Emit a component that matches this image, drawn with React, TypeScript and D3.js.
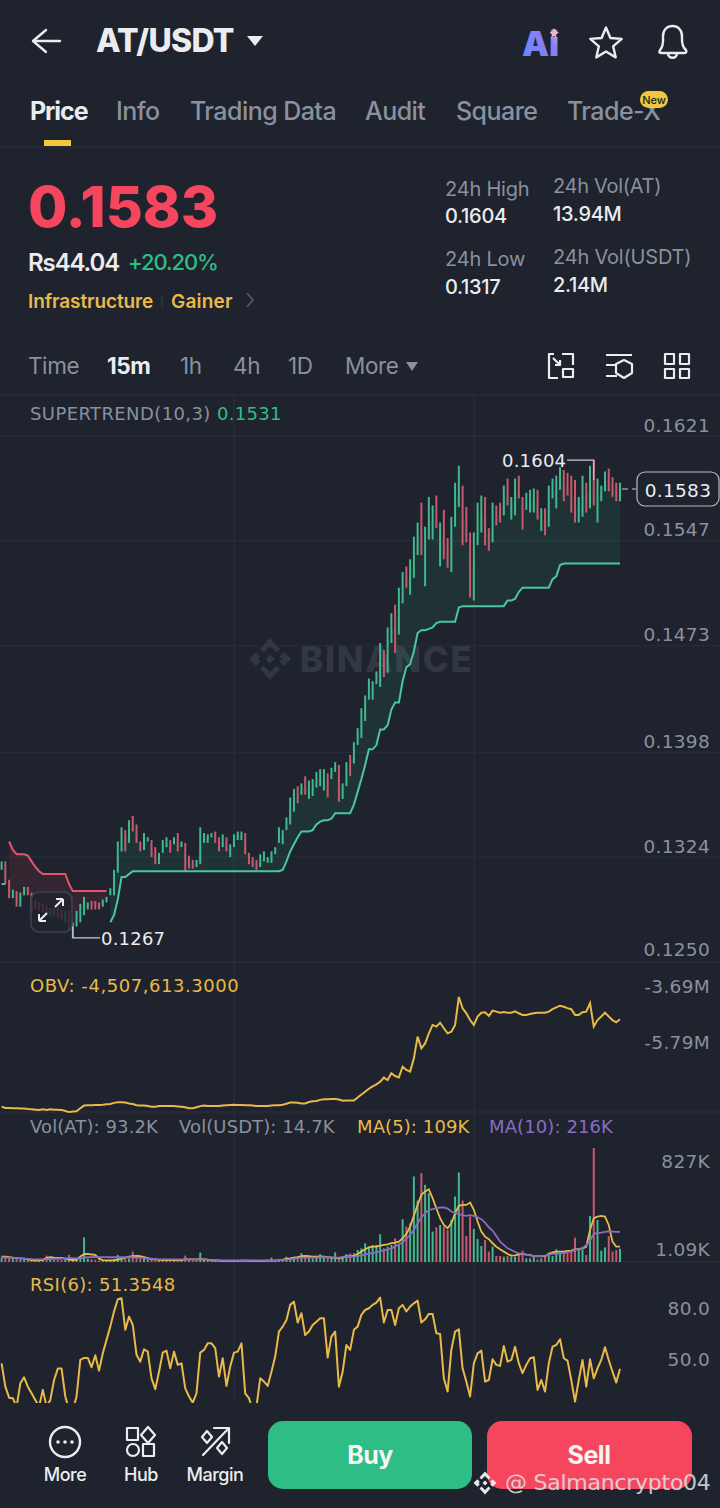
import * as d3 from 'd3'

// one letter per 15m candle, g = up, r = down
const candleDirs = (
  'grrgrggrrr' + 'rrrgrrrgrg' + 'ggggrrrggg' + 'gggrgrrrgg' + 'rrgggrgrgr' + 'rrgggggrrg' + 'rggggrrrrg' + 'gggggggggr' +
  'grgggggrgg' + 'rggrgggggg' + 'ggrggrggrg' + 'ggrgggrgrr' + 'gggrrrgggr' + 'rgrrgrggrr' + 'gggrgrgggg' + 'rrrrggrgrg' + 'ggrrrg'
).split('')

const candleHighs = [
  .1321, .1321, .1308, .1301, .1300, .1299, .1303, .1303, .1299, .1294,
  .1292, .1291, .1290, .1288, .1288, .1288, .1287, .1286, .1286, .1278,
  .1286, .1291, .1296, .1292, .1293, .1293, .1292, .1294, .1296, .1302,
  .1315, .1335, .1345, .1343, .1350, .1353, .1347, .1335, .1341, .1338,
  .1336, .1331, .1327, .1336, .1338, .1336, .1338, .1341, .1335, .1334,
  .1325, .1322, .1322, .1345, .1341, .1340, .1341, .1342, .1338, .1340,
  .1338, .1333, .1340, .1342, .1342, .1341, .1327, .1324, .1322, .1326,
  .1328, .1324, .1328, .1331, .1345, .1343, .1352, .1366, .1372, .1374,
  .1376, .1381, .1378, .1379, .1384, .1386, .1386, .1383, .1387, .1391,
  .1389, .1376, .1391, .1396, .1405, .1415, .1429, .1438, .1450, .1448,
  .1455, .1475, .1470, .1486, .1496, .1502, .1514, .1525, .1529, .1534,
  .1550, .1560, .1574, .1557, .1578, .1572, .1579, .1560, .1569, .1549,
  .1564, .1588, .1600, .1586, .1571, .1553, .1553, .1574, .1579, .1578,
  .1556, .1574, .1572, .1574, .1586, .1591, .1578, .1591, .1593, .1578,
  .1581, .1583, .1584, .1583, .1570, .1570, .1586, .1591, .1593, .1599,
  .1597, .1595, .1593, .1590, .1578, .1593, .1588, .1600, .1604, .1591,
  .1586, .1596, .1598, .1592, .1588, .1588,
]

const candleLows = [
  .1315, .1305, .1295, .1295, .1289, .1289, .1297, .1297, .1285, .1287,
  .1286, .1285, .1283, .1282, .1282, .1281, .1280, .1278, .1272, .1267,
  .1275, .1278, .1283, .1287, .1287, .1287, .1287, .1289, .1292, .1297,
  .1297, .1313, .1328, .1328, .1334, .1342, .1334, .1328, .1329, .1335,
  .1324, .1319, .1319, .1327, .1331, .1327, .1333, .1328, .1331, .1314,
  .1316, .1316, .1317, .1319, .1334, .1334, .1338, .1334, .1328, .1331,
  .1328, .1324, .1331, .1336, .1336, .1326, .1319, .1317, .1315, .1317,
  .1321, .1320, .1320, .1326, .1334, .1333, .1343, .1347, .1356, .1362,
  .1368, .1368, .1365, .1367, .1373, .1374, .1371, .1366, .1379, .1384,
  .1363, .1365, .1374, .1381, .1390, .1403, .1408, .1420, .1435, .1435,
  .1446, .1444, .1451, .1454, .1475, .1468, .1481, .1503, .1514, .1509,
  .1521, .1537, .1537, .1515, .1548, .1548, .1556, .1529, .1534, .1528,
  .1525, .1557, .1571, .1544, .1546, .1507, .1505, .1544, .1553, .1544,
  .1540, .1546, .1558, .1560, .1565, .1572, .1562, .1565, .1577, .1555,
  .1569, .1567, .1567, .1562, .1554, .1551, .1557, .1577, .1570, .1583,
  .1575, .1579, .1567, .1560, .1560, .1564, .1567, .1570, .1572, .1560,
  .1575, .1582, .1582, .1578, .1575, .1575,
]

const n = null
const superRed = [
  n, n, .1335, .1329, .1326, .1326, .1326, .1325, .1321, .1317,
  .1314, .1312, .1312, .1312, .1312, .1312, .1312, .1312, .1305, .1300,
  .1300, .1300, .1300, .1300, .1300, .1300, .1300, .1300, .1300,
]
const superGreen = [
  .1305, .1305, n, n, n, n, n, n, n, n, n, n, n, n, n, n, n, n, n, n, n, n, n, n, n, n, n, n, n,
  .1278, .1283, .1294, .1310, .1310, .1312, .1314, .1314, .1314, .1314, .1314,
  .1314, .1314, .1314, .1314, .1314, .1314, .1314, .1314, .1314, .1314,
  .1314, .1314, .1314, .1314, .1314, .1314, .1314, .1314, .1314, .1314,
  .1314, .1314, .1314, .1314, .1314, .1314, .1314, .1314, .1314, .1314,
  .1314, .1314, .1314, .1314, .1314, .1315, .1321, .1328, .1333, .1338,
  .1342, .1342, .1342, .1343, .1347, .1349, .1350, .1350, .1351, .1355,
  .1355, .1355, .1355, .1355, .1361, .1370, .1379, .1389, .1400, .1400,
  .1403, .1414, .1414, .1417, .1428, .1433, .1433, .1448, .1458, .1460,
  .1469, .1482, .1484, .1484, .1485, .1486, .1489, .1490, .1490, .1490,
  .1490, .1490, .1500, .1501, .1501, .1501, .1501, .1501, .1501, .1501,
  .1501, .1501, .1501, .1501, .1501, .1505, .1505, .1506, .1511, .1514,
  .1514, .1514, .1514, .1514, .1514, .1514, .1514, .1520, .1522, .1530,
  .1531, .1531, .1531, .1531, .1531, .1531, .1531, .1531, .1531, .1531,
  .1531, .1531, .1531, .1531, .1531, .1531,
]

// OBV in millions
const obvValues = [
  -7.73, -7.78, -7.78, -7.79, -7.79, -7.80, -7.80, -7.82, -7.83, -7.84,
  -7.85, -7.83, -7.85, -7.83, -7.84, -7.84, -7.85, -7.89, -7.93, -7.91,
  -7.90, -7.79, -7.69, -7.68, -7.68, -7.67, -7.67, -7.66, -7.64, -7.63,
  -7.59, -7.57, -7.57, -7.58, -7.61, -7.63, -7.68, -7.69, -7.69, -7.71,
  -7.73, -7.73, -7.71, -7.71, -7.71, -7.71, -7.71, -7.72, -7.73, -7.75,
  -7.79, -7.79, -7.75, -7.71, -7.69, -7.71, -7.71, -7.71, -7.71, -7.69,
  -7.68, -7.67, -7.66, -7.67, -7.67, -7.68, -7.68, -7.69, -7.71, -7.71,
  -7.71, -7.71, -7.69, -7.68, -7.68, -7.66, -7.62, -7.58, -7.58, -7.59,
  -7.61, -7.61, -7.56, -7.53, -7.52, -7.48, -7.46, -7.46, -7.45, -7.45,
  -7.47, -7.51, -7.50, -7.50, -7.50, -7.39, -7.28, -7.18, -7.07, -6.98,
  -6.91, -6.81, -6.66, -6.75, -6.50, -6.60, -6.65, -6.26, -6.38, -6.44,
  -5.95, -5.15, -5.58, -5.40, -5.03, -4.72, -4.78, -4.64, -4.84, -5.03,
  -4.97, -4.72, -3.69, -4.11, -4.29, -4.54, -4.72, -4.41, -4.27, -4.25,
  -4.39, -4.19, -4.23, -4.27, -4.24, -4.27, -4.27, -4.22, -4.29, -4.35,
  -4.35, -4.32, -4.29, -4.27, -4.27, -4.27, -4.23, -4.14, -4.07, -4.01,
  -4.05, -4.10, -4.14, -4.35, -4.35, -4.25, -4.23, -3.92, -4.78, -4.54,
  -4.41, -4.27, -4.41, -4.54, -4.62, -4.51,
]

// volume in thousands
const volumeValues = [
  30, 36, 34, 24, 22, 15, 14, 12, 10, 9,
  8, 20, 44, 22, 18, 14, 12, 14, 49, 14,
  18, 30, 177, 22, 18, 14, 9, 9, 10, 12,
  18, 49, 14, 20, 24, 73, 30, 26, 24, 18,
  12, 10, 14, 10, 10, 10, 8, 9, 12, 44,
  20, 10, 10, 66, 14, 8, 7, 6, 6, 7,
  8, 6, 5, 5, 5, 5, 6, 5, 5, 6,
  5, 6, 29, 8, 10, 12, 36, 20, 24, 30,
  61, 28, 26, 24, 30, 53, 28, 24, 26, 68,
  20, 30, 55, 60, 61, 85, 97, 134, 109, 122,
  122, 199, 97, 109, 122, 170, 122, 309, 255, 279,
  620, 445, 644, 559, 498, 219, 250, 267, 255, 231,
  304, 474, 649, 445, 187, 328, 238, 165, 114, 158,
  73, 109, 41, 41, 36, 41, 36, 36, 61, 80,
  24, 24, 41, 17, 24, 36, 66, 41, 90, 66,
  61, 61, 73, 175, 85, 85, 49, 333, 827, 304,
  80, 104, 187, 73, 85, 93,
]

const ma5Values = [
  37, 36, 33, 30, 25, 24, 22, 17, 11, 8,
  10, 12, 28, 32, 29, 28, 27, 22, 14, 12,
  13, 38, 54, 56, 52, 49, 22, 11, 10, 10,
  10, 14, 20, 29, 36, 40, 41, 40, 33, 25,
  17, 16, 13, 12, 12, 11, 11, 12, 11, 16,
  17, 16, 16, 19, 17, 14, 10, 8, 7, 6,
  6, 6, 6, 6, 7, 7, 6, 7, 6, 6,
  6, 7, 8, 8, 11, 14, 21, 24, 29, 33,
  40, 41, 40, 37, 37, 38, 37, 32, 30, 27,
  24, 29, 40, 38,
  41, 56, 73, 90, 104, 109, 109, 117, 122, 126,
  134, 139, 146, 170, 202, 255, 333, 413, 486, 510,
  527, 462, 389, 316, 267, 243, 279, 352, 406, 413,
  413, 430, 377, 292, 219, 182, 163, 134, 109, 90,
  73, 56, 44, 46, 53, 56, 51, 49, 41, 39,
  39, 41, 56, 68, 73, 73, 73, 78, 80, 90,
  92, 95, 109, 231, 316, 328, 333, 328, 267, 146, 109, 109,
]

const ma10Values = [
  32, 30, 29, 27, 25, 24, 22, 20, 18, 17,
  16, 16, 17, 19, 20, 21, 22, 24, 25, 25,
  24, 25, 30, 32, 33, 35, 33, 33, 33, 32,
  32, 32, 32, 32, 32, 32, 30, 29, 25, 22,
  21, 19, 17, 17, 16, 16, 16, 16, 16, 16,
  16, 16, 16, 16, 16, 14, 13, 12, 11, 10,
  10, 10, 10, 10, 10, 10, 10, 10, 10, 10,
  10, 10, 10, 10, 11, 13, 14, 17, 22, 25,
  29, 30, 30, 30, 30, 32, 32, 32, 32, 30,
  30, 35, 38, 36,
  36, 41, 46, 51, 58, 63, 68, 75, 83, 87,
  97, 109, 126, 139, 170, 194, 231, 279, 323, 352,
  377, 382, 389, 394, 394, 386, 365, 355, 345, 338,
  333, 338, 333, 323, 309, 284, 250, 226, 187, 146,
  122, 97, 85, 70, 61, 56, 51, 46, 41, 41,
  41, 44, 51, 56, 58, 61, 63, 70, 75, 85,
  92, 100, 119, 153, 202, 207, 211, 216, 221, 219, 216, 216,
]

const rsiValues = [
  54.5, 40.8, 34.3, 34.0, 29.0, 42.8, 46.3, 40.8, 36.9, 33.0,
  29.0, 38.9, 29.0, 33.0, 44.7, 51.4, 51.4, 35.0, 27.1, 27.1,
  35.0, 56.5, 57.7, 57.7, 52.2, 59.3, 50.2, 60.4, 68.3, 76.1,
  85.0, 92.2, 92.8, 74.2, 82.0, 77.1, 59.5, 55.5, 62.8, 61.4,
  45.7, 39.3, 49.6, 60.8, 62.0, 51.6, 61.4, 53.6, 54.5, 39.8,
  35.0, 31.4, 36.9, 60.8, 62.4, 66.3, 66.3, 63.4, 46.7, 57.5,
  41.2, 52.6, 60.8, 61.4, 66.3, 36.9, 34.0, 27.1, 29.0, 45.7,
  43.8, 41.2, 49.6, 58.5, 73.2, 76.1, 80.0, 88.9, 90.8, 78.5,
  84.0, 71.2, 73.2, 77.1, 79.0, 81.0, 81.0, 57.9, 70.2, 73.2,
  40.8, 49.6, 65.3, 62.4, 74.2, 76.1, 83.0, 85.9, 86.9, 88.9,
  90.2, 93.2, 78.5, 85.9, 85.9, 77.1, 86.9, 88.9, 85.0, 87.9,
  89.8, 91.4, 78.5, 80.4, 83.6, 83.6, 72.2, 71.8, 45.7, 37.9,
  62.4, 73.2, 74.5, 51.6, 43.8, 35.0, 54.5, 60.4, 62.0, 43.8,
  44.7, 56.9, 53.6, 53.0, 64.7, 55.5, 56.5, 64.3, 54.5, 48.7,
  53.6, 57.5, 58.1, 38.9, 44.7, 37.9, 54.5, 64.3, 65.3, 68.7,
  57.5, 56.1, 44.7, 32.0, 44.7, 56.5, 40.8, 56.9, 45.7, 51.6,
  56.5, 64.0, 56.5, 49.6, 43.2, 51.35,
]

const priceTicks = ['0.1621', '0.1547', '0.1473', '0.1398', '0.1324', '0.1250']
const tabs = [['Price', 30], ['Info', 116], ['Trading Data', 190], ['Audit', 365], ['Square', 456], ['Trade-X', 567]] as const
const intervals = [['Time', 28], ['15m', 107], ['1h', 180], ['4h', 233], ['1D', 288], ['More', 345]] as const

const bg = '#1e232d'
const green = '#2ebd85'
const red = '#f6465d'
const candleGreen = '#3fb98f'
const candleRed = '#c65a6c'
const yellow = '#e9b949'
const purple = '#8a6cc4'
const gray = '#8a919e'
const white = '#eaecef'
const grid = '#2a303a'
const font = 'Inter, Roboto, sans-serif'
const chartFont = '"DejaVu Sans", sans-serif'

const x = d3.scaleLinear([0, 165], [1.6, 620])
const yPrice = d3.scaleLinear([0.1250, 0.1621], [962, 436])
const yObv = d3.scaleLinear([-5.79, -3.69], [1054, 997])
const yVol = d3.scaleLinear([1.09, 827], [1261.5, 1148])
const yRsi = d3.scaleLinear([50, 80], [1371, 1320])

const lineFrom = (values: (number | null)[], y: d3.ScaleLinear<number, number>) =>
  d3.line<number | null>()
    .defined(d => d !== null)
    .x((_, i) => x(i))
    .y(d => y(d as number))(values) as string

const fillBetween = (line: (number | null)[]) =>
  d3.area<number | null>()
    .defined(d => d !== null)
    .x((_, i) => x(i))
    .y0(d => yPrice(d as number))
    .y1((_, i) => yPrice((candleHighs[i] + candleLows[i]) / 2))(line) as string

// the Binance mark, four chevrons round a small diamond
const BinanceMark = ({cx, cy, r, color}: { cx: number, cy: number, r: number, color: string }) => {
  const s = r / 22
  return (
    <g transform={`translate(${cx},${cy}) scale(${s})`} fill={color}>
      <path d="M0,-4.5 L4.5,0 L0,4.5 L-4.5,0Z"/>
      <path d="M-6.5,-6.5 L0,-13 L6.5,-6.5 L10,-10 L0,-21 L-10,-10Z"/>
      <path d="M-6.5,6.5 L0,13 L6.5,6.5 L10,10 L0,21 L-10,10Z"/>
      <path d="M-21,0 L-14,-7 L-9.5,-2.5 L-12,0 L-9.5,2.5 L-14,7Z"/>
      <path d="M21,0 L14,-7 L9.5,-2.5 L12,0 L9.5,2.5 L14,7Z"/>
    </g>
  )
}

const starPath = d3.lineRadial<number>()
  .angle((_, i) => i * Math.PI / 5)
  .radius(d => d)
  .curve(d3.curveLinearClosed)(d3.range(10).map(i => i % 2 === 0 ? 16.5 : 7.5)) as string

const AxisLabel = ({y, children}: { y: number, children: string }) => (
  <text x={710} y={y} fontSize={18.5} fill={gray} fontFamily={chartFont} textAnchor="end" letterSpacing={0.3}>{children}</text>
)

export default function App() {
  const stroke = {fill: 'none', stroke: white, strokeWidth: 2.4, strokeLinejoin: 'round' as const, strokeLinecap: 'round' as const}
  const superGreenTail = superGreen.map((v, i) => i < 29 ? null : v)

  return (
    <svg width={720} height={1508} style={{position: 'absolute', left: 0, top: 0, display: 'block'}} fontFamily={font}>
      <defs>
        <linearGradient id="aiGrad" x1="0" y1="1" x2="1" y2="0">
          <stop offset="0%" stopColor="#5f8cff"/>
          <stop offset="65%" stopColor="#8d7df2"/>
          <stop offset="100%" stopColor="#e8b7d8"/>
        </linearGradient>
        <clipPath id="rsiClip"><rect x={0} y={1270} width={720} height={133}/></clipPath>
      </defs>
      <rect width={720} height={1508} fill={bg}/>

      {/* header */}
      <path d="M60,41 H34 M46,30 L33,41 L46,52" {...stroke}/>
      <text x={96} y={52} fontSize={32} fontWeight={800} fill={white} letterSpacing={-0.7}>AT/USDT</text>
      <path d="M247,36 H263 L255,46Z" fill={white}/>
      <text x={522} y={56} fontSize={34} fontWeight={900} fill="url(#aiGrad)">Ai</text>
      <path d="M554,28 l1.5,3.5 l3.5,1 l-3,2 l0.5,3.5 l-2.5,-2 l-3,2 l1,-3.5 l-2.5,-2 l3.5,-1Z" fill="#e8b7d8"/>
      <path d={starPath} transform="translate(606,44)" {...stroke}/>
      <path d="M660,50 C664,46 663,40 663,36 C663,30 667,26 672.5,26 C678,26 682,30 682,36 C682,40 681,46 686,50 C687,52 686,53 684,53 H661 C659,53 659,52 660,50Z M668,54 C669,59 676,59 677,54" {...stroke}/>

      {tabs.map(([label, tx], i) => (
        <text key={label} x={tx} y={120} fontSize={25} fontWeight={i === 0 ? 700 : 500} fill={i === 0 ? white : gray} letterSpacing={i === 0 ? -1.1 : -0.55}>{label}</text>
      ))}
      <rect x={44} y={140} width={27} height={6} fill="#f0c93a"/>
      <rect x={640} y={91} width={28} height={17} rx={8.5} fill="#f0c93a"/>
      <text x={654} y={104} fontSize={11} fontWeight={500} fill="#1e232d" textAnchor="middle">New</text>
      <line x1={0} x2={720} y1={147} y2={147} stroke={grid}/>

      {/* price block */}
      <text x={28} y={227} fontSize={57} fontWeight={800} fill={red}>0.1583</text>
      <text x={28} y={271} fontSize={24} fontWeight={600} fill={white} letterSpacing={-1.1}>Rs44.04</text>
      <text x={128} y={270} fontSize={22} fontWeight={500} fill={green} letterSpacing={-1.1}>+20.20%</text>
      <text x={28} y={308} fontSize={19} fontWeight={600} fill={yellow} letterSpacing={-0.1}>Infrastructure</text>
      <line x1={162} x2={162} y1={296} y2={307} stroke="#3a404c"/>
      <text x={171} y={308} fontSize={19} fontWeight={600} fill={yellow} letterSpacing={0.2}>Gainer</text>
      <path d="M247,293 L253,300 L247,307" fill="none" stroke="#565c68" strokeWidth={1.6}/>

      <text x={445} y={196} fontSize={20} fill={gray} letterSpacing={-0.2}>24h High</text>
      <text x={445} y={223} fontSize={20} fontWeight={500} fill={white} letterSpacing={-0.3}>0.1604</text>
      <text x={553} y={193} fontSize={20} fill={gray} letterSpacing={-0.3}>24h Vol(AT)</text>
      <text x={553} y={221} fontSize={20} fontWeight={500} fill={white} letterSpacing={-0.3}>13.94M</text>
      <text x={445} y={266} fontSize={20} fill={gray} letterSpacing={-0.2}>24h Low</text>
      <text x={445} y={294} fontSize={20} fontWeight={500} fill={white} letterSpacing={-0.3}>0.1317</text>
      <text x={553} y={264} fontSize={20} fill={gray} letterSpacing={-0.2}>24h Vol(USDT)</text>
      <text x={553} y={292} fontSize={20} fontWeight={500} fill={white} letterSpacing={-0.3}>2.14M</text>

      {/* intervals */}
      {intervals.map(([label, tx]) => (
        <text key={label} x={tx} y={374} fontSize={22.5} fontWeight={label === '15m' ? 700 : 400} fill={label === '15m' ? white : gray} letterSpacing={-0.4}>{label}</text>
      ))}
      <path d="M406,362 H418 L412,371Z" fill={gray}/>
      <g {...stroke} strokeWidth={2.2} strokeLinecap="butt">
        <path d="M562,354 H573 V365 M549,365 V354 H554 M549,365 V378 H558"/>
        <rect x={563} y={369} width={10} height={8}/>
        <path d="M553,358 L560,365 M560,360 V365 H555"/>
        <path d="M606,355 H632 M606,365 H617 M606,376 H617"/>
        <path d="M624,360 L632,364 V373 L624,378 L616,373 V364Z"/>
        <rect x={665} y={354} width={9} height={10}/>
        <rect x={680} y={354} width={9} height={10}/>
        <rect x={665} y={369} width={9} height={9}/>
        <rect x={680} y={369} width={9} height={9}/>
      </g>
      <line x1={0} x2={720} y1={395} y2={395} stroke={grid}/>

      {/* grid */}
      {[234, 474].map(gx => <line key={gx} x1={gx} x2={gx} y1={396} y2={1403} stroke={grid}/>)}
      {priceTicks.map(label => (
        <line key={label} x1={0} x2={720} y1={yPrice(+label)} y2={yPrice(+label)} stroke={grid}/>
      ))}
      <line x1={0} x2={720} y1={1112} y2={1112} stroke={grid}/>
      <line x1={0} x2={720} y1={1262} y2={1262} stroke={grid}/>

      {/* watermark */}
      <BinanceMark cx={270} cy={659} r={22} color="#323843"/>
      <text x={300} y={672} fontSize={35} fontWeight={800} fill="#323843" letterSpacing={1.8}>BINANCE</text>

      <text x={30} y={420} fontSize={18} fill={gray} fontFamily={chartFont} letterSpacing={0.4}>SUPERTREND(10,3)</text>
      <text x={217} y={420} fontSize={18} fill={green} fontFamily={chartFont} letterSpacing={0.3}>0.1531</text>

      {/* supertrend fill, candles, supertrend lines */}
      <path d={fillBetween(superGreenTail)} fill={green} opacity={0.1}/>
      <path d={fillBetween(superRed)} fill={red} opacity={0.1}/>
      {candleHighs.map((hi, i) => (
        <line key={i} x1={x(i)} x2={x(i)} y1={yPrice(hi)} y2={yPrice(candleLows[i])}
              stroke={candleDirs[i] === 'g' ? candleGreen : candleRed} strokeWidth={2}/>
      ))}
      <path d={lineFrom(superRed, yPrice)} fill="none" stroke="#e0566c" strokeWidth={2}/>
      <path d={lineFrom(superGreen, yPrice)} fill="none" stroke="#4cc79c" strokeWidth={2}/>

      {/* price axis labels sit just above their grid lines, the lowest one too */}
      {priceTicks.map(label => (
        <AxisLabel key={label} y={yPrice(+label) - (label === '0.1250' ? 6 : 4.5)}>{label}</AxisLabel>
      ))}

      {/* high, low and last markers */}
      <path d={`M567,${yPrice(0.1604)} H${x(158)} V${yPrice(0.1590)}`} fill="none" stroke="#c8ccd2" strokeWidth={1.2}/>
      <text x={502} y={467} fontSize={18} fill={white} fontFamily={chartFont} letterSpacing={0.2}>0.1604</text>
      <path d={`M${x(19)},${yPrice(0.1275)} V${yPrice(0.1267)} H100`} fill="none" stroke="#c8ccd2" strokeWidth={1.2}/>
      <text x={101} y={945} fontSize={18} fill={white} fontFamily={chartFont} letterSpacing={0.2}>0.1267</text>
      <line x1={622} x2={636} y1={489} y2={489} stroke="#c8ccd2" strokeDasharray="6 4"/>
      <rect x={637} y={472} width={82} height={34} rx={8} fill={bg} stroke="#b8bcc4" strokeWidth={1.2}/>
      <text x={678} y={497} fontSize={18.5} fill={white} fontFamily={chartFont} textAnchor="middle" letterSpacing={0.3}>0.1583</text>

      {/* resize button */}
      <rect x={31} y={892} width={41} height={40} rx={8} fill={bg} fillOpacity={0.8} stroke="#3c424e" strokeWidth={1.6}/>
      <path d="M39,921 L47,913 M39,921 V914 M39,921 H46 M63,899 L55,907 M63,899 V906 M63,899 H56" fill="none" stroke={white} strokeWidth={2}/>

      {/* OBV */}
      <text x={30} y={992} fontSize={18} fill={yellow} fontFamily={chartFont} letterSpacing={0.55}>OBV: -4,507,613.3000</text>
      <path d={lineFrom(obvValues, yObv)} fill="none" stroke={yellow} strokeWidth={2}/>
      <AxisLabel y={993}>-3.69M</AxisLabel>
      <AxisLabel y={1049}>-5.79M</AxisLabel>

      {/* volume */}
      <text x={30} y={1133} fontSize={18} fill={gray} fontFamily={chartFont} letterSpacing={0.1}>Vol(AT): 93.2K</text>
      <text x={179} y={1133} fontSize={18} fill={gray} fontFamily={chartFont} letterSpacing={0.1}>Vol(USDT): 14.7K</text>
      <text x={357} y={1133} fontSize={18} fill={yellow} fontFamily={chartFont} letterSpacing={0.1}>MA(5): 109K</text>
      <text x={489} y={1133} fontSize={18} fill={purple} fontFamily={chartFont} letterSpacing={0.1}>MA(10): 216K</text>
      {volumeValues.map((v, i) => (
        <line key={i} x1={x(i)} x2={x(i)} y1={yVol(v)} y2={1262}
              stroke={candleDirs[i] === 'g' ? candleGreen : candleRed} strokeWidth={2}/>
      ))}
      <path d={lineFrom(ma5Values, yVol)} fill="none" stroke={yellow} strokeWidth={1.8}/>
      <path d={lineFrom(ma10Values, yVol)} fill="none" stroke={purple} strokeWidth={1.8}/>
      <AxisLabel y={1168}>827K</AxisLabel>
      <AxisLabel y={1256}>1.09K</AxisLabel>

      {/* RSI */}
      <text x={30} y={1291} fontSize={18} fill={yellow} fontFamily={chartFont} letterSpacing={0.3}>RSI(6): 51.3548</text>
      <path d={lineFrom(rsiValues, yRsi)} fill="none" stroke={yellow} strokeWidth={2} clipPath="url(#rsiClip)" strokeLinejoin="round"/>
      <AxisLabel y={1315}>80.0</AxisLabel>
      <AxisLabel y={1366}>50.0</AxisLabel>

      {/* bottom bar */}
      <circle cx={65} cy={1442} r={15} {...stroke}/>
      <circle cx={58} cy={1442} r={1.8} fill={white}/>
      <circle cx={65} cy={1442} r={1.8} fill={white}/>
      <circle cx={72} cy={1442} r={1.8} fill={white}/>
      <text x={65} y={1481} fontSize={18} fontWeight={500} fill={white} textAnchor="middle" letterSpacing={-0.5}>More</text>
      <g {...stroke} strokeWidth={2.2}>
        <rect x={127} y={1428} width={11} height={12}/>
        <path d="M148,1427 L155,1435 L148,1443 L141,1435Z"/>
        <circle cx={133} cy={1450} r={6}/>
        <rect x={143} y={1444} width={11} height={12}/>
      </g>
      <text x={141} y={1481} fontSize={18} fontWeight={500} fill={white} textAnchor="middle" letterSpacing={-0.5}>Hub</text>
      <g {...stroke} strokeWidth={2.2}>
        <path d="M203,1455 L228,1429 M214,1428 H229 V1443"/>
        <path d="M207,1431 L212,1437 L207,1443 L202,1437Z"/>
        <path d="M222,1442 L227,1448 L222,1454 L217,1448Z"/>
      </g>
      <text x={215} y={1481} fontSize={18} fontWeight={500} fill={white} textAnchor="middle" letterSpacing={-0.5}>Margin</text>

      <rect x={268} y={1421} width={204} height={68} rx={15} fill="#2ebd85"/>
      <text x={370} y={1464} fontSize={25} fontWeight={700} fill="#f4f6f6" textAnchor="middle" letterSpacing={-0.5}>Buy</text>
      <rect x={487} y={1421} width={205} height={68} rx={15} fill="#f6465d"/>
      <text x={589} y={1464} fontSize={25} fontWeight={700} fill="#f4f6f6" textAnchor="middle" letterSpacing={-0.5}>Sell</text>

      <BinanceMark cx={485} cy={1483} r={12} color="#e8eaee"/>
      <text x={505} y={1490} fontSize={22} fill="#dfe2e7" fontFamily={chartFont} opacity={0.85} letterSpacing={-0.25}>@ Salmancrypto04</text>
    </svg>
  )
}
